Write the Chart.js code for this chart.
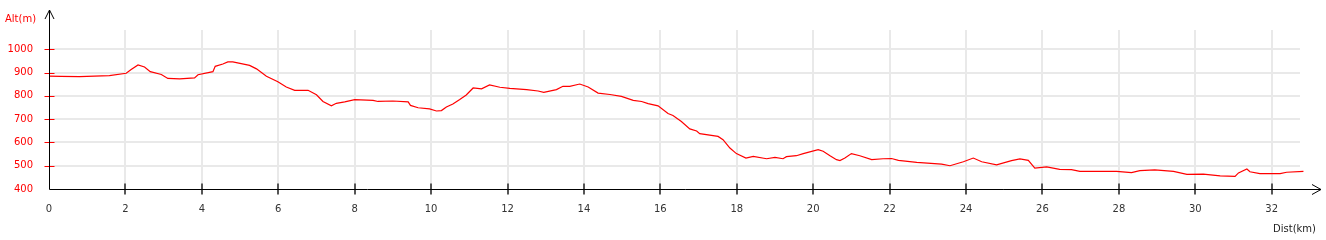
<!DOCTYPE html>
<html>
<head>
<meta charset="utf-8">
<script src="https://cdn.jsdelivr.net/npm/chart.js@4"></script>
<style>
  html, body { margin: 0; padding: 0; background: #fff; }
  canvas { display: block; }
</style>
</head>
<body>
<canvas id="profil" width="1326" height="240"></canvas>
<script>
const dist = [0, 0.3, 0.8, 1.58, 2.02, 2.15, 2.33, 2.5, 2.65, 2.94, 3.11, 3.42, 3.81, 3.9, 4.29, 4.35, 4.55, 4.68, 4.81, 5.25,
  5.43, 5.69, 5.99, 6.21, 6.43, 6.78, 7.0, 7.17, 7.39, 7.52, 7.74, 8.0, 8.48, 8.61, 9.0, 9.4, 9.46, 9.66, 9.96, 10.14,
  10.27, 10.4, 10.57, 10.75, 10.92, 11.1, 11.32, 11.53, 11.8, 12.06, 12.5, 12.8, 12.95, 13.28, 13.45, 13.63, 13.89, 14.11, 14.37, 14.68,
  14.98, 15.29, 15.51, 15.68, 15.94, 16.2, 16.33, 16.55, 16.77, 16.95, 17.03, 17.51, 17.64, 17.82, 17.99, 18.24, 18.43, 18.78, 19.0, 19.21,
  19.3, 19.56, 19.74, 20.13, 20.26, 20.44, 20.61, 20.7, 20.83, 21.0, 21.22, 21.53, 21.83, 22.05, 22.23, 22.71, 23.36, 23.58, 23.93, 24.19,
  24.41, 24.8, 25.19, 25.41, 25.63, 25.8, 26.11, 26.45, 26.76, 26.98, 27.94, 28.33, 28.55, 28.94, 29.43, 29.78, 30.21, 30.65, 31.04, 31.13,
  31.35, 31.43, 31.69, 32.22, 32.39, 32.83];
const alt = [885, 884, 883, 887, 897, 913, 933, 924, 904, 892, 875, 873, 877, 891, 904, 927, 937, 946, 946, 931,
  916, 884, 861, 838, 824, 824, 805, 776, 757, 768, 774, 784, 781, 776, 778, 774, 759, 749, 744, 735,
  737, 752, 765, 784, 804, 834, 830, 847, 837, 832, 827, 821, 815, 827, 841, 841, 851, 838, 812, 806,
  798, 781, 776, 767, 757, 724, 716, 690, 658, 649, 638, 626, 612, 576, 552, 533, 540, 530, 536, 530,
  539, 543, 552, 569, 562, 543, 526, 522, 533, 552, 543, 526, 530, 531, 523, 514, 507, 500, 517, 533,
  517, 504, 522, 529, 523, 490, 495, 484, 483, 476, 476, 470, 479, 482, 476, 463, 464, 456, 454, 469,
  486, 474, 466, 466, 472, 476];

const xTicks = [0, 2, 4, 6, 8, 10, 12, 14, 16, 18, 20, 22, 24, 26, 28, 30, 32];
const yTicks = [400, 500, 600, 700, 800, 900, 1000];

const police = { family: 'DejaVu Sans', size: 10 };
const grille = '#e9e9e9';

// axes noirs avec fleches, petites graduations, titres
const axesPlugin = {
  id: 'axes',
  afterDraw(chart) {
    const ctx = chart.ctx;
    const xs = chart.scales.x, ys = chart.scales.y;
    const x0 = Math.round(xs.left) + 0.5;
    const y0 = Math.round(ys.bottom) + 0.5;
    ctx.save();

    // graduations y (rouges)
    ctx.lineWidth = 1;
    ctx.strokeStyle = '#ff0000';
    yTicks.forEach(v => {
      if (v === yTicks[0]) return;
      const y = Math.round(ys.getPixelForValue(v)) + 0.5;
      ctx.beginPath(); ctx.moveTo(x0 - 5, y); ctx.lineTo(x0 + 5, y); ctx.stroke();
    });
    // graduations x
    ctx.lineWidth = 2;
    ctx.strokeStyle = '#555';
    xTicks.forEach(v => {
      if (v === 0) return;
      const x = Math.round(xs.getPixelForValue(v));
      ctx.beginPath(); ctx.moveTo(x, y0 - 6); ctx.lineTo(x, y0 + 5); ctx.stroke();
    });

    ctx.lineWidth = 1;
    ctx.strokeStyle = '#000';
    ctx.beginPath();
    ctx.moveTo(x0, y0); ctx.lineTo(x0, 10);
    ctx.moveTo(x0 - 4.5, 19); ctx.lineTo(x0, 10); ctx.lineTo(x0 + 4.5, 19);
    ctx.moveTo(x0, y0); ctx.lineTo(1321, y0);
    ctx.moveTo(1312, y0 - 5); ctx.lineTo(1321, y0); ctx.lineTo(1312, y0 + 5);
    ctx.stroke();

    ctx.font = '10px "DejaVu Sans"';
    ctx.textBaseline = 'middle';
    ctx.fillStyle = '#ff0000';
    ctx.textAlign = 'left';
    ctx.fillText('Alt(m)', 5, 19.5);
    ctx.fillStyle = '#222';
    ctx.textAlign = 'right';
    ctx.fillText('Dist(km)', 1316, 229.5);
    ctx.restore();
  }
};

new Chart(document.getElementById('profil'), {
  type: 'line',
  data: {
    datasets: [{
      data: dist.map((d, i) => ({ x: d, y: alt[i] })),
      borderColor: '#ff0000',
      borderWidth: 1.2,
      pointRadius: 0,
      tension: 0,
      fill: false,
      clip: false
    }]
  },
  options: {
    responsive: false,
    animation: false,
    layout: { padding: { top: 30, right: 26, left: 0, bottom: 0 } },
    plugins: { legend: { display: false }, tooltip: { enabled: false } },
    scales: {
      x: {
        type: 'linear',
        min: 0,
        max: 32.74,
        afterBuildTicks: s => { s.ticks = xTicks.map(v => ({ value: v })); },
        afterFit: s => { s.height = 51; },
        grid: { color: ctx => ctx.tick && ctx.tick.value === 0 ? 'rgba(0,0,0,0)' : grille, lineWidth: 2, drawTicks: false },
        border: { display: false },
        ticks: { color: '#333', font: police, padding: 14, maxRotation: 0, autoSkip: false, callback: v => String(v) }
      },
      y: {
        min: 400,
        max: 1083,
        afterBuildTicks: s => { s.ticks = yTicks.map(v => ({ value: v })); },
        afterFit: s => { s.width = 49; },
        grid: { color: ctx => ctx.tick && ctx.tick.value === 400 ? 'rgba(0,0,0,0)' : grille, lineWidth: 2, drawTicks: false },
        border: { display: false },
        ticks: { color: '#ff0000', font: police, padding: 16, autoSkip: false, callback: v => String(v) }
      }
    }
  },
  plugins: [axesPlugin]
});
</script>
</body>
</html>
